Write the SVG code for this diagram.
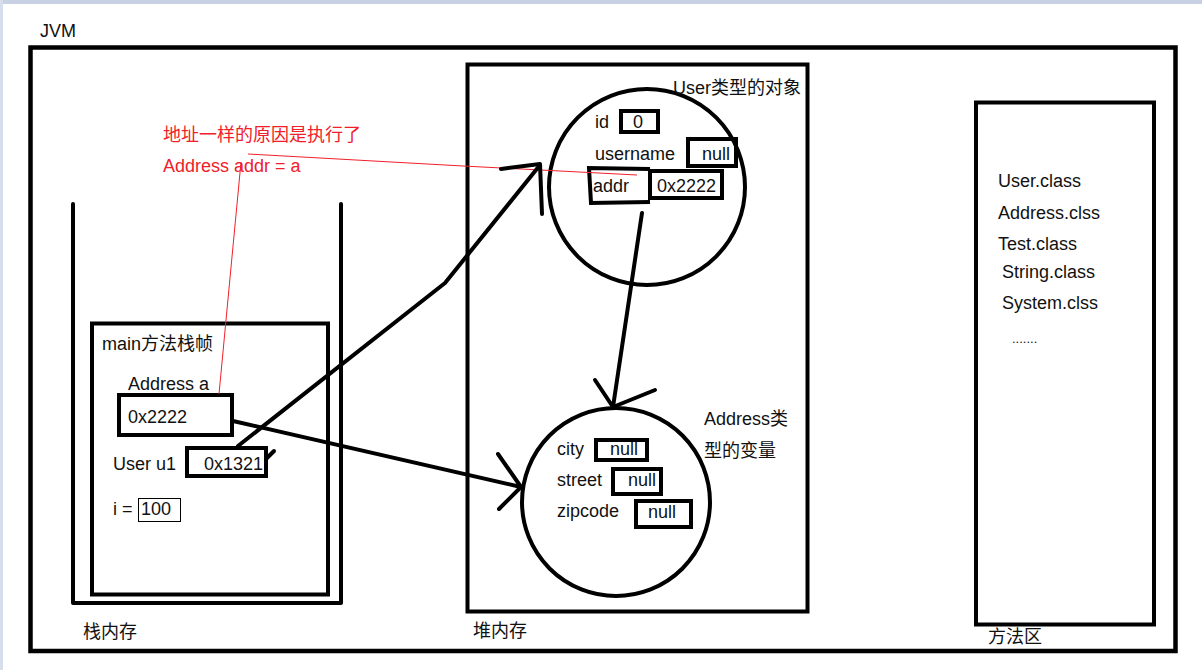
<svg xmlns="http://www.w3.org/2000/svg" width="1202" height="670" viewBox="0 0 1202 670">
<style>
text{font-family:"Liberation Sans","Noto Sans CJK SC",sans-serif;font-size:18px;fill:#111}
.red{fill:#f0202a}
.box{fill:none;stroke:#000;stroke-width:4}
.thick{fill:none;stroke:#000;stroke-width:4.5}
.ln{fill:none;stroke:#000;stroke-width:4;stroke-linecap:round;stroke-linejoin:round}
.rl{fill:none;stroke:#f0202a;stroke-width:1}
</style>
<rect x="0" y="0" width="1202" height="670" fill="#fff"/>
<rect x="0" y="0" width="1202" height="4" fill="#c8d1e3"/>
<rect x="0" y="0" width="3" height="670" fill="#d6deec"/>

<g id="jvm">
<rect class="thick" x="30.5" y="47.5" width="1145" height="603.5"/>
<text x="40" y="37">JVM</text>
</g>

<g id="stack">
<path class="ln" d="M73,204 L73,603 L341,603 L341,204" stroke-linecap="butt"/>
<text x="83" y="638">栈内存</text>
</g>

<g id="main-frame">
<rect class="box" x="92" y="323.5" width="236" height="271"/>
<text x="102" y="350">main方法栈帧</text>
<text x="128" y="390">Address a</text>
<rect class="box" x="119" y="395" width="113" height="40"/>
<text x="128" y="423">0x2222</text>
<text x="113" y="470">User u1</text>
<rect class="box" x="187" y="448" width="79" height="28"/>
<text x="204" y="470">0x1321</text>
<text x="113" y="515">i =</text>
<rect x="138.5" y="498.5" width="42" height="23" fill="none" stroke="#000" stroke-width="1"/>
<text x="141" y="515">100</text>
</g>

<g id="heap">
<rect class="box" x="467.5" y="64.5" width="340" height="547"/>
<text x="473" y="637">堆内存</text>
</g>

<g id="user-object">
<circle cx="647" cy="187" r="98" fill="none" stroke="#000" stroke-width="4"/>
<text x="673" y="94">User类型的对象</text>
<text x="595" y="128">id</text>
<rect class="box" x="621" y="111" width="37" height="21"/>
<text x="633" y="128">0</text>
<text x="595" y="160">username</text>
<rect class="box" x="688" y="139" width="48" height="27"/>
<text x="702" y="160">null</text>
<path class="box" d="M650,169 L589,168 L591,203 L650,202"/>
<text x="593" y="192">addr</text>
<rect class="box" x="650" y="171" width="72" height="27"/>
<text x="657" y="192">0x2222</text>
</g>

<g id="address-object">
<circle cx="616" cy="502" r="94" fill="none" stroke="#000" stroke-width="4"/>
<text x="704" y="425">Address类</text>
<text x="704" y="457">型的变量</text>
<text x="557" y="455">city</text>
<rect class="box" x="596" y="440" width="51" height="20"/>
<text x="610" y="455">null</text>
<text x="557" y="486">street</text>
<rect class="box" x="613" y="469" width="48" height="25"/>
<text x="628" y="486">null</text>
<text x="557" y="517">zipcode</text>
<rect class="box" x="636" y="501" width="55" height="26"/>
<text x="648" y="518">null</text>
</g>

<g id="method-area">
<rect class="box" x="976" y="102.5" width="178" height="522"/>
<text x="988" y="643">方法区</text>
<text x="998" y="187">User.class</text>
<text x="998" y="219">Address.clss</text>
<text x="998" y="250">Test.class</text>
<text x="1002" y="278">String.class</text>
<text x="1002" y="309">System.clss</text>
<text x="1012" y="343" style="font-size:13px">.......</text>
</g>

<g id="note">
<text class="red" x="163" y="141">地址一样的原因是执行了</text>
<text class="red" x="163" y="172">Address addr = a</text>
</g>

<g id="connectors">
<path class="rl" d="M248,154 L320,158 L463,166 L560,171 L637,175"/>
<path class="rl" d="M241,162 L219,394"/>
<path class="ln" d="M238,446 L445,283 L540,165"/>
<path class="ln" d="M501,169 L540,164 L542,214"/>
<path class="ln" d="M267,458 L274,451" stroke-width="3"/>
<path class="ln" d="M233,421 L521,487"/>
<path class="ln" d="M498,454 L521,487 L499,509"/>
<path class="ln" d="M642,213 L613,407"/>
<path class="ln" d="M595,380 L613,407 L655,390"/>
</g>
</svg>
